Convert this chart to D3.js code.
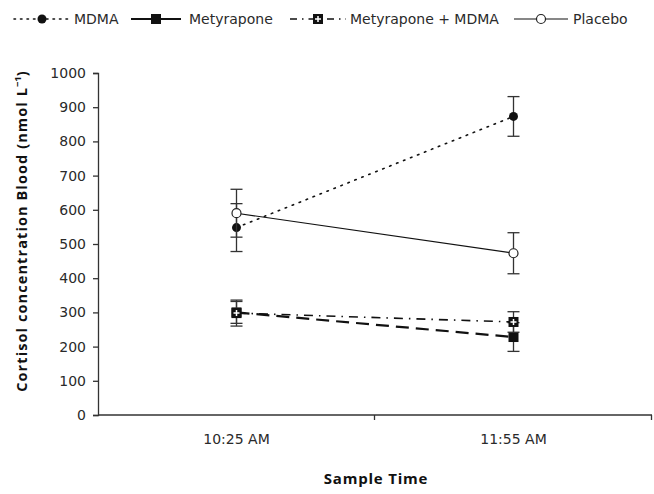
<!DOCTYPE html>
<html>
<head>
<meta charset="utf-8">
<script src="https://cdn.jsdelivr.net/npm/d3@7"></script>
<style>
  body { margin: 0; background: #fff; }
  svg text { font-family: "DejaVu Sans", Verdana, sans-serif; fill: #2a2a2a; }
  .axis-title { font-family: "Open Sans", sans-serif; font-weight: bold; fill: #111; }
</style>
</head>
<body>
<div class="graph-container"></div>
<script>
// Chart data
const times = ['10:25 AM', '11:55 AM'];
const seriesNames = ['MDMA', 'Metyrapone', 'Metyrapone + MDMA', 'Placebo'];
const mdma = [548, 873];
const mdmaErr = [70, 58];
const metyrapone = [300, 228];
const metyraponeErr = [32, 42];
const metyraponeMdma = [298, 272];
const metyraponeMdmaErr = [38, 30];
const placebo = [590, 473];
const placeboErr = [70, 60];
const yTicks = [0, 100, 200, 300, 400, 500, 600, 700, 800, 900, 1000];

const width = 654, height = 494;
const margin = {left: 98, right: 2, top: 73, bottom: 79};
const tickFont = 'DejaVu Sans, Verdana, sans-serif';

const svg = d3.select('.graph-container')
              .append('svg')
              .attr('width', width)
              .attr('height', height);

const x = d3.scaleBand()
            .domain(times)
            .range([margin.left, width - margin.right]);
const y = d3.scaleLinear()
            .domain([0, 1000])
            .range([height - margin.bottom, margin.top]);

// Axes
const xAxis = svg.append('g')
                 .attr('transform', `translate(0,${y(0)})`)
                 .call(d3.axisBottom(x).tickSize(0).tickPadding(19));
xAxis.select('.domain').remove();
xAxis.selectAll('text').attr('font-size', 14).attr('font-family', tickFont).attr('fill', '#2a2a2a');
svg.append('line')
   .attr('x1', margin.left).attr('x2', width - margin.right)
   .attr('y1', y(0)).attr('y2', y(0))
   .attr('stroke', '#333').attr('stroke-width', 1.3);
// category boundary ticks
[x(times[1]), x(times[1]) + x.bandwidth()].forEach(px => {
  svg.append('line')
     .attr('x1', px - 0.5).attr('x2', px - 0.5)
     .attr('y1', y(0)).attr('y2', y(0) + 5)
     .attr('stroke', '#333').attr('stroke-width', 1.3);
});

const yAxis = svg.append('g')
                 .attr('transform', `translate(${margin.left},0)`)
                 .call(d3.axisLeft(y).tickValues(yTicks).tickFormat(d3.format('d')).tickSize(5).tickPadding(7));
yAxis.select('.domain').attr('stroke', '#333').attr('stroke-width', 1.3);
yAxis.selectAll('.tick line').attr('stroke', '#333').attr('stroke-width', 1.3);
yAxis.selectAll('text').attr('font-size', 14).attr('font-family', tickFont).attr('fill', '#2a2a2a');

// Axis titles
svg.append('text')
   .attr('class', 'axis-title')
   .attr('x', 376)
   .attr('y', 484)
   .attr('text-anchor', 'middle')
   .attr('font-size', 15)
   .attr('letter-spacing', 0.8)
   .text('Sample Time');

const yTitle = svg.append('text')
   .attr('class', 'axis-title')
   .attr('transform', `translate(27,${(y(0) + y(1000)) / 2 - 13}) rotate(-90)`)
   .attr('text-anchor', 'middle')
   .attr('font-size', 14.5)
   .attr('letter-spacing', 1.1);
yTitle.append('tspan').text('Cortisol concentration Blood (nmol L');
yTitle.append('tspan').attr('dy', -6).attr('font-size', 9.5).attr('letter-spacing', 0).text('−1');
yTitle.append('tspan').attr('dy', 6).text(')');

// Series definitions
const series = [
  {name: seriesNames[0], values: mdma, err: mdmaErr, dash: '1.5,6', width: 1.6, cap: 'round', marker: 'dot'},
  {name: seriesNames[1], values: metyrapone, err: metyraponeErr, dash: '13,7', width: 2.2, cap: 'butt', marker: 'square'},
  {name: seriesNames[2], values: metyraponeMdma, err: metyraponeMdmaErr, dash: '9,6,1.5,6', width: 1.6, cap: 'butt', marker: 'plusSquare'},
  {name: seriesNames[3], values: placebo, err: placeboErr, dash: null, width: 1.2, cap: 'butt', marker: 'circle'}
];

const cx = t => x(t) + x.bandwidth() / 2;

function drawMarker(g, type, px, py) {
  if (type === 'dot') {
    g.append('circle').attr('cx', px).attr('cy', py).attr('r', 4.5).attr('fill', '#111');
  } else if (type === 'square') {
    g.append('rect').attr('x', px - 5).attr('y', py - 5).attr('width', 10).attr('height', 10).attr('fill', '#111');
  } else if (type === 'plusSquare') {
    g.append('rect').attr('x', px - 5).attr('y', py - 5).attr('width', 10).attr('height', 10).attr('fill', '#111');
    g.append('path').attr('d', `M${px - 3},${py}H${px + 3}M${px},${py - 3}V${py + 3}`)
     .attr('stroke', '#fff').attr('stroke-width', 1.5);
  } else {
    g.append('circle').attr('cx', px).attr('cy', py).attr('r', 4.5)
     .attr('fill', '#fff').attr('stroke', '#222').attr('stroke-width', 1.2);
  }
}

const line = d3.line()
               .x((d, i) => cx(times[i]))
               .y(d => y(d));

const plot = svg.append('g').attr('class', 'plot');

series.forEach(s => {
  const g = plot.append('g');
  // error bars
  s.values.forEach((v, i) => {
    const px = cx(times[i]);
    g.append('line')
     .attr('x1', px).attr('x2', px)
     .attr('y1', y(v - s.err[i])).attr('y2', y(v + s.err[i]))
     .attr('stroke', '#333').attr('stroke-width', 1.3);
    [v - s.err[i], v + s.err[i]].forEach(e => {
      g.append('line')
       .attr('x1', px - 6).attr('x2', px + 6)
       .attr('y1', y(e)).attr('y2', y(e))
       .attr('stroke', '#333').attr('stroke-width', 1.3);
    });
  });
  g.append('path')
   .datum(s.values)
   .attr('d', line)
   .attr('fill', 'none')
   .attr('stroke', '#111')
   .attr('stroke-width', s.width)
   .attr('stroke-linecap', s.cap)
   .attr('stroke-dasharray', s.dash);
  s.values.forEach((v, i) => drawMarker(g, s.marker, cx(times[i]), y(v)));
});

// Legend
const legendY = 19;
const legendPos = [
  {x0: 14, x1: 70, tx: 74, dash: '1.5,5'},
  {x0: 131, x1: 181, tx: 189, dash: null},
  {x0: 290, x1: 346, tx: 350, dash: '7,5,1.5,5'},
  {x0: 514, x1: 568, tx: 573, dash: null}
];
series.forEach((s, i) => {
  const p = legendPos[i];
  const g = svg.append('g').attr('class', 'legend');
  g.append('line')
   .attr('x1', p.x0).attr('x2', p.x1)
   .attr('y1', legendY).attr('y2', legendY)
   .attr('stroke', '#111')
   .attr('stroke-width', s.width)
   .attr('stroke-linecap', s.cap)
   .attr('stroke-dasharray', p.dash);
  drawMarker(g, s.marker, (p.x0 + p.x1) / 2, legendY);
  g.append('text')
   .attr('x', p.tx).attr('y', legendY + 5)
   .attr('font-size', 14)
   .attr('textLength', null)
   .text(s.name);
});
</script>
</body>
</html>
